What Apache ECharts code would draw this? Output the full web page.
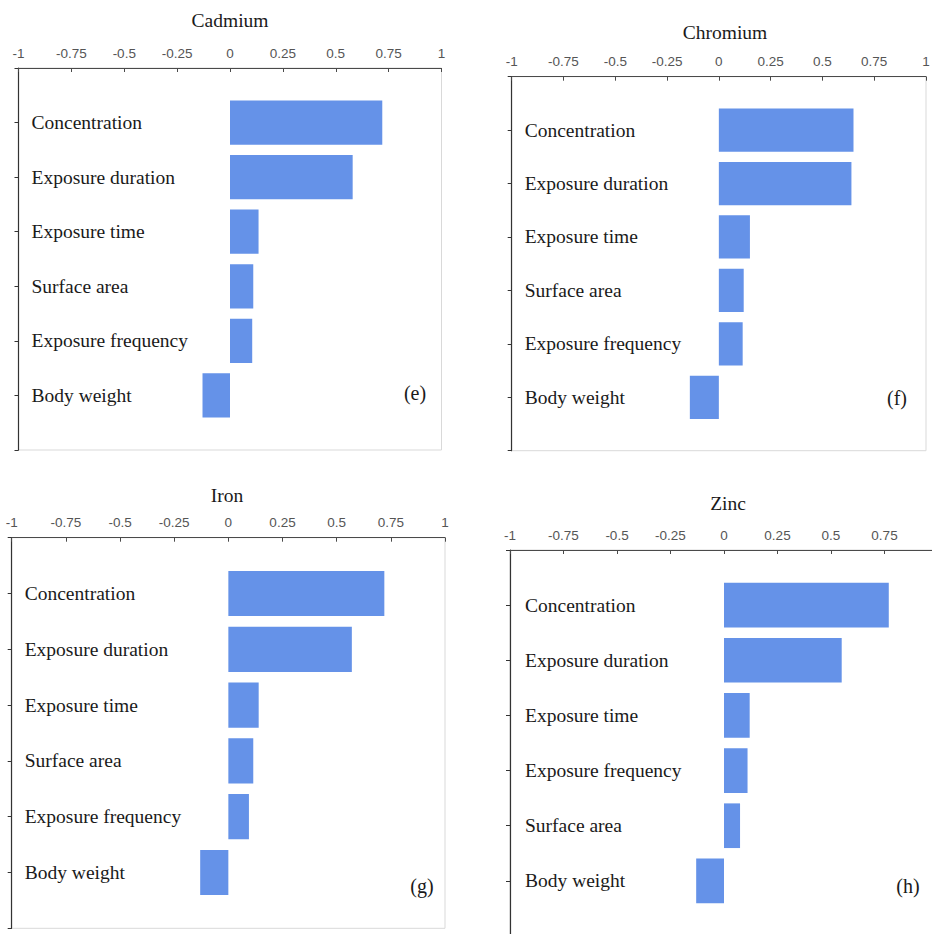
<!DOCTYPE html>
<html>
<head>
<meta charset="utf-8">
<title>Sensitivity analysis – Cd, Cr, Fe, Zn</title>
<script src="https://cdn.jsdelivr.net/npm/echarts@6/dist/echarts.min.js"></script>
<style>
  html, body { margin: 0; padding: 0; background: #ffffff; }
  #chart { width: 932px; height: 934px; }
</style>
</head>
<body>
<div id="chart"></div>
<script>
// Sensitivity (rank correlation) of exposure parameters for each metal
const axisTicks = [-1, -0.75, -0.5, -0.25, 0, 0.25, 0.5, 0.75, 1];

const cadmiumFactors = ['Concentration', 'Exposure duration', 'Exposure time', 'Surface area', 'Exposure frequency', 'Body weight'];
const cadmiumValues = [0.72, 0.58, 0.135, 0.11, 0.105, -0.13];

const chromiumFactors = ['Concentration', 'Exposure duration', 'Exposure time', 'Surface area', 'Exposure frequency', 'Body weight'];
const chromiumValues = [0.65, 0.64, 0.15, 0.12, 0.115, -0.14];

const ironFactors = ['Concentration', 'Exposure duration', 'Exposure time', 'Surface area', 'Exposure frequency', 'Body weight'];
const ironValues = [0.72, 0.57, 0.14, 0.115, 0.095, -0.13];

const zincFactors = ['Concentration', 'Exposure duration', 'Exposure time', 'Exposure frequency', 'Surface area', 'Body weight'];
const zincValues = [0.77, 0.55, 0.12, 0.11, 0.075, -0.13];

const panelTitles = ['Cadmium', 'Chromium', 'Iron', 'Zinc'];
const panelTags = ['(e)', '(f)', '(g)', '(h)'];

// plot boxes for the four panels (left, top, width, height);
// the zinc panel runs past the right and bottom edges of the page
const boxes = [
  { left: 18.5, top: 68, width: 423, height: 382 },
  { left: 511.7, top: 76.7, width: 414.3, height: 374 },
  { left: 11.7, top: 537.7, width: 433.3, height: 390.6 },
  { left: 510, top: 550, width: 428, height: 386 }
];

const factorSets = [cadmiumFactors, chromiumFactors, ironFactors, zincFactors];
const valueSets = [cadmiumValues, chromiumValues, ironValues, zincValues];

const serif = '"Liberation Serif", "Times New Roman", serif';
const sans = '"Liberation Sans", Arial, sans-serif';
const barColor = '#6592e8';

const grids = [], xAxes = [], yAxes = [], series = [], graphics = [];

boxes.forEach((b, i) => {
  const runsOffPage = i === 3;
  grids.push({
    left: b.left, top: b.top, width: b.width, height: b.height,
    outerBoundsMode: 'none', containLabel: false,
    show: true, borderColor: '#d9d9d9', borderWidth: 1, backgroundColor: 'transparent'
  });
  xAxes.push({
    gridIndex: i, type: 'value', position: 'top',
    min: axisTicks[0], max: axisTicks[axisTicks.length - 1], interval: 0.25,
    axisLine: { show: true, lineStyle: { color: '#4a4a4a', width: 1 } },
    axisTick: { show: true, inside: true, length: 4, lineStyle: { color: '#4a4a4a' } },
    axisLabel: { show: true, margin: 8, color: '#555555', fontFamily: sans, fontSize: 13.5,
      showMaxLabel: !runsOffPage, formatter: v => String(v) },
    splitLine: { show: false }
  });
  // slots: an empty row above the first factor and below the last
  yAxes.push({
    gridIndex: i, type: 'category', inverse: true, boundaryGap: false,
    data: [''].concat(factorSets[i], ['']),
    axisLine: { show: true, onZero: false, lineStyle: { color: '#333333', width: 1.2 } },
    axisTick: { show: true, inside: false, length: 4, interval: 0, lineStyle: { color: '#333333' } },
    axisLabel: { show: true, inside: true, interval: 0, margin: runsOffPage ? 15 : 13, color: '#1a1a1a',
      fontFamily: serif, fontSize: 19.5, align: 'left' },
    splitLine: { show: false }
  });
  series.push({
    type: 'bar', xAxisIndex: i, yAxisIndex: i,
    data: ['-'].concat(valueSets[i], ['-']),
    barWidth: '81%',
    itemStyle: { color: barColor },
    silent: true
  });
});

// panel titles above each top axis
const titlePos = [[230, 20], [725, 32], [227, 495], [728, 503]];
titlePos.forEach((p, i) => {
  graphics.push({
    type: 'text', x: p[0], y: p[1],
    style: { text: panelTitles[i], font: '19.5px ' + serif, fill: '#1a1a1a',
      textAlign: 'center', textVerticalAlign: 'middle' }
  });
});

// panel tags sit on the last row, near the right border
const tagPos = [[415, 393], [897, 398], [422, 886], [908, 886]];
tagPos.forEach((p, i) => {
  graphics.push({
    type: 'text', x: p[0], y: p[1],
    style: { text: panelTags[i], font: '20px ' + serif, fill: '#1a1a1a',
      textAlign: 'center', textVerticalAlign: 'middle' }
  });
});

const chart = echarts.init(document.getElementById('chart'), null, { renderer: 'svg' });
chart.setOption({
  backgroundColor: '#ffffff',
  animation: false,
  grid: grids,
  xAxis: xAxes,
  yAxis: yAxes,
  series: series,
  graphic: graphics
});
</script>
</body>
</html>
